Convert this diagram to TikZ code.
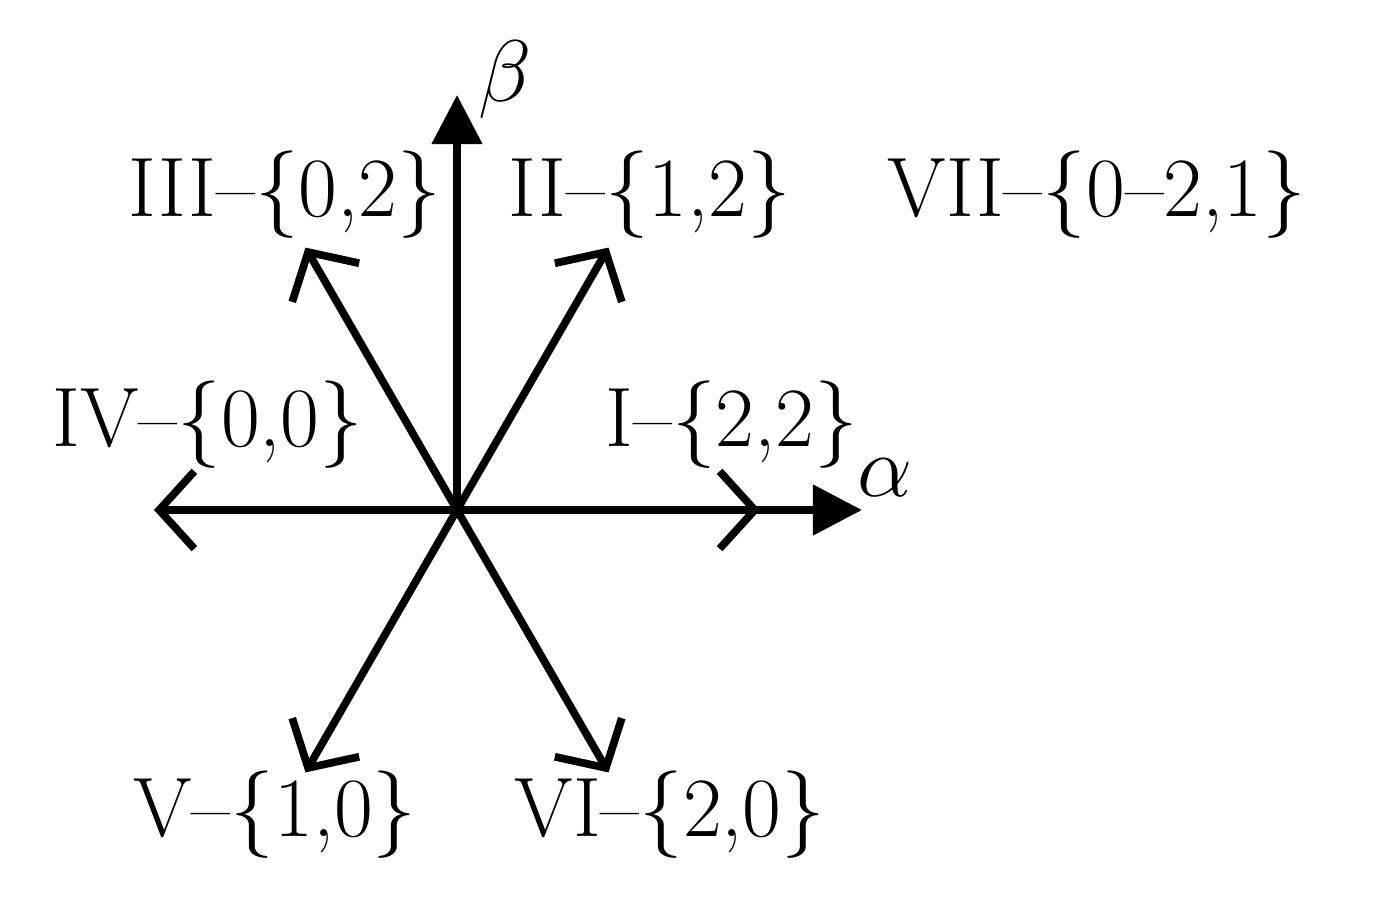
\documentclass[tikz,border=0pt]{standalone}
\usetikzlibrary{arrows.meta,calc}
\begin{document}
\begin{tikzpicture}[
  vec/.style={line width=2.2pt,-{Straight Barb[length=10pt,width=22pt,line width=2.2pt]}},
  ax/.style={line width=2.2pt,-{Triangle[length=14pt,width=14pt]}},
  lab/.style={font=\fontsize{24}{28}\selectfont,inner sep=0pt}]
\useasboundingbox (0,0) rectangle (13.79,9);
\coordinate (O) at (4.57,3.90);
\coordinate (Ax) at (8.62,3.90);
\coordinate (Ay) at (4.57,8.05);
\draw[ax] (O) -- (Ax);
\draw[ax] (O) -- (Ay);
\foreach \a/\n in {0/t1,60/t2,120/t3,180/t4,240/t5,300/t6}
  \coordinate (\n) at ($(O)+(\a:3.03)$);
\draw[vec] (O) -- (t1);
\draw[vec] (O) -- (t2);
\draw[vec] (O) -- (t3);
\draw[vec] (O) -- (t4);
\draw[vec] (O) -- (t5);
\draw[vec] (O) -- (t6);
\node[lab] (l3) at (2.85,7.05) {III--$\{$0,2$\}$};
\node[lab] (l2) at (6.50,7.05) {II--$\{$1,2$\}$};
\node[lab] (l7) at (10.97,7.05) {VII--$\{$0--2,1$\}$};
\node[lab] (l4) at (2.08,4.75) {IV--$\{$0,0$\}$};
\node[lab] (l1) at (7.32,4.75) {I--$\{$2,2$\}$};
\node[lab] (l5) at (2.75,0.85) {V--$\{$1,0$\}$};
\node[lab] (l6) at (6.70,0.85) {VI--$\{$2,0$\}$};
\node[lab] (al) at (8.85,4.22) {$\alpha$};
\node[lab] (be) at (5.05,8.20) {$\beta$};
\end{tikzpicture}
\end{document}
